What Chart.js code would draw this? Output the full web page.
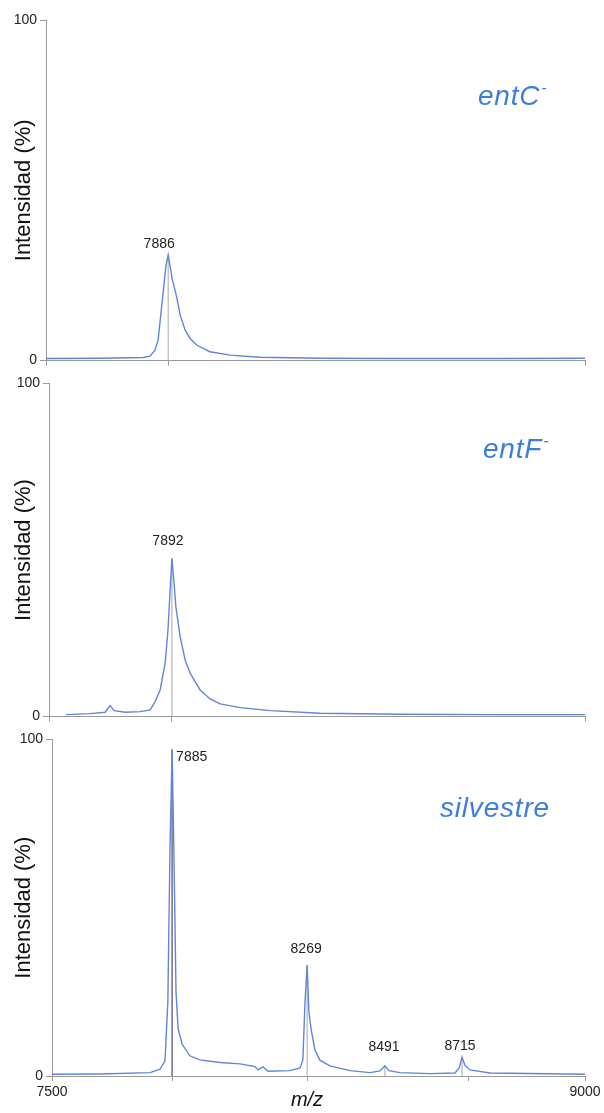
<!DOCTYPE html>
<html>
<head>
<meta charset="utf-8">
<script src="https://cdn.jsdelivr.net/npm/chart.js@4"></script>
<style>
  body { margin: 0; background: #fff; }
  .wrap { position: relative; width: 604px; height: 1113px; }
  canvas { position: absolute; left: 0; }
</style>
</head>
<body>
<div class="wrap">
  <canvas id="p1" width="604" height="372" style="top:0px"></canvas>
  <canvas id="p2" width="604" height="356" style="top:372px"></canvas>
  <canvas id="p3" width="604" height="385" style="top:728px"></canvas>
</div>
<script>
// axis
const xMin = 7500, xMax = 9000;
const xTickLabels = ['7500', '9000'];
const yTickLabels = ['0', '100'];

// entC- spectrum (m/z, intensity %)
const entC_mz  = [7500, 7650, 7770, 7789, 7803, 7812, 7817, 7826, 7834, 7840, 7845, 7851, 7856, 7865, 7873, 7887, 7901, 7920, 7956, 8012, 8096, 8263, 8485, 8763, 9000];
const entC_int = [0.6, 0.7, 0.9, 1.3, 3, 6, 11, 20, 28, 31, 28, 24, 22, 18, 13.5, 9, 6.5, 4.5, 2.6, 1.6, 1, 0.7, 0.6, 0.6, 0.7];
const entC_peakMz = [7840];
const entC_peakInt = [31];
const entC_peakLabels = ['7886'];
const entC_xTicks = [7840];

// entF- spectrum
const entF_mz  = [7548, 7615, 7657, 7671, 7682, 7713, 7755, 7783, 7797, 7811, 7825, 7833, 7839, 7844, 7850, 7855, 7867, 7881, 7895, 7923, 7951, 7979, 8035, 8119, 8259, 8482, 8762, 9000];
const entF_int = [0.6, 0.9, 1.3, 3.3, 1.8, 1.3, 1.5, 2, 4.5, 8, 16, 26, 38, 47.5, 40, 33, 24, 17, 13, 8, 5.3, 3.8, 2.7, 1.8, 1, 0.7, 0.6, 0.6];
const entF_peakMz = [7844];
const entF_peakInt = [47.5];
const entF_peakLabels = ['7892'];
const entF_xTicks = [7844];

// silvestre spectrum
const silv_mz  = [7500, 7635, 7776, 7804, 7818, 7826, 7832, 7838, 7843, 7849, 7855, 7866, 7888, 7916, 7973, 8029, 8071, 8080, 8094, 8108, 8170, 8198, 8206, 8212, 8218, 8223, 8229, 8240, 8254, 8282, 8339, 8395, 8423, 8437, 8448, 8479, 8564, 8634, 8646, 8654, 8662, 8676, 8733, 9000];
const silv_int = [0.5, 0.6, 1, 2, 4.5, 22, 67, 97, 67, 25, 14, 9.5, 6, 4.8, 4, 3.6, 2.8, 1.8, 2.7, 1.4, 1.6, 2.4, 4.7, 22, 33, 19, 14, 7.7, 4.7, 3, 1.6, 1, 1.5, 3, 1.6, 1, 0.7, 0.9, 2.4, 5.6, 3.2, 1.8, 0.9, 0.5];
const silv_peakMz = [7838, 8218, 8437, 8654];
const silv_peakInt = [97, 33, 3, 5.6];
const silv_peakLabels = ['7885', '8269', '8491', '8715'];
const silv_xTicks = [7838, 8218, 8673];

const lineColor = '#5f86d8';
const axisColor = '#9a9a9a';
const nameColor = '#3d7edc';

function toPoints(xs, ys) {
  return xs.map((x, i) => ({ x: x, y: ys[i] }));
}

// draws series name and peak labels on top of the chart
const textPlugin = {
  id: 'texts',
  afterDraw(chart) {
    const o = chart.options.plugins.texts;
    const ctx = chart.ctx;
    const xs = chart.scales.x, ys = chart.scales.y;
    ctx.save();
    // series name
    ctx.fillStyle = nameColor;
    ctx.font = 'italic 28px "Liberation Sans", Arial, sans-serif';
    ctx.letterSpacing = '0.8px';
    ctx.textAlign = 'left';
    ctx.textBaseline = 'alphabetic';
    ctx.fillText(o.name, o.nameX, o.nameY);
    if (o.sup) {
      const w = ctx.measureText(o.name).width;
      ctx.font = 'italic 16px "Liberation Sans", Arial, sans-serif';
      ctx.fillText(o.sup, o.nameX + w + 1, o.nameY - 12);
    }
    ctx.letterSpacing = '0px';
    // peak labels
    ctx.fillStyle = '#222';
    ctx.font = '14px "Liberation Sans", Arial, sans-serif';
    ctx.textBaseline = 'middle';
    o.peakMz.forEach((m, i) => {
      const off = o.labelOffsets[i];
      ctx.textAlign = off[2];
      ctx.fillText(o.peakLabels[i], xs.getPixelForValue(m) + off[0], ys.getPixelForValue(o.peakInt[i]) + off[1]);
    });
    if (o.xTitle) {
      ctx.fillStyle = '#111';
      ctx.font = 'italic 20px "Liberation Sans", Arial, sans-serif';
      ctx.textAlign = 'center';
      ctx.fillText(o.xTitle, 307, chart.height - 13);
    }
    ctx.restore();
  }
};

function makePanel(id, cfg) {
  const datasets = [];
  cfg.peakMz.forEach((m, i) => {
    datasets.push({
      data: [{ x: m, y: 0 }, { x: m, y: cfg.peakInt[i] }],
      borderColor: i === 0 && cfg.darkFirst ? '#7d7394' : '#a8a8b0',
      borderWidth: i === 0 && cfg.darkFirst ? 1.6 : 1,
      pointRadius: 0,
      order: 2
    });
  });
  datasets.push({
    data: toPoints(cfg.mz, cfg.int),
    borderColor: lineColor,
    borderWidth: 1.4,
    pointRadius: 0,
    tension: 0,
    order: 1
  });

  new Chart(document.getElementById(id), {
    type: 'line',
    data: { datasets: datasets },
    options: {
      responsive: false,
      animation: false,
      layout: { padding: { left: 8, right: 19, top: cfg.top, bottom: 0 } },
      plugins: {
        legend: { display: false },
        tooltip: { enabled: false },
        texts: cfg
      },
      scales: {
        x: {
          type: 'linear',
          min: xMin,
          max: xMax,
          afterBuildTicks: s => { s.ticks = [xMin].concat(cfg.xTicks, [xMax]).map(v => ({ value: v })); },
          afterFit: s => { s.height = cfg.xHeight; },
          ticks: {
            display: cfg.showX,
            autoSkip: false,
            maxRotation: 0,
            padding: 3,
            color: '#222',
            font: { family: '"Liberation Sans", Arial, sans-serif', size: 14 },
            callback: v => {
              const t = String(v);
              return xTickLabels.includes(t) ? t : '';
            }
          },
          grid: { drawOnChartArea: false, tickLength: 5, color: axisColor },
          border: { color: axisColor }
        },
        y: {
          min: 0,
          max: 100,
          afterBuildTicks: s => { s.ticks = yTickLabels.map(v => ({ value: Number(v) })); },
          afterFit: s => { s.width = cfg.left - 8; },
          ticks: {
            padding: 3,
            color: '#222',
            font: { family: '"Liberation Sans", Arial, sans-serif', size: 14 }
          },
          grid: { drawOnChartArea: false, tickLength: 6, color: axisColor },
          border: { color: axisColor },
          title: {
            display: true,
            text: 'Intensidad (%)',
            color: '#111',
            padding: { top: 3, bottom: 0 },
            font: { family: '"Liberation Sans", Arial, sans-serif', size: 22 }
          }
        }
      }
    },
    plugins: [textPlugin]
  });
}

makePanel('p1', {
  mz: entC_mz, int: entC_int,
  peakMz: entC_peakMz, peakInt: entC_peakInt, peakLabels: entC_peakLabels,
  labelOffsets: [[-9, -11, 'center']],
  xTicks: entC_xTicks,
  name: 'entC', sup: '-', nameX: 478, nameY: 105,
  top: 20, left: 46, xHeight: 11, showX: false
});

makePanel('p2', {
  mz: entF_mz, int: entF_int,
  peakMz: entF_peakMz, peakInt: entF_peakInt, peakLabels: entF_peakLabels,
  labelOffsets: [[-4, -17, 'center']],
  xTicks: entF_xTicks,
  name: 'entF', sup: '-', nameX: 483, nameY: 458 - 372,
  top: 9, left: 49, xHeight: 11, showX: false
});

makePanel('p3', {
  mz: silv_mz, int: silv_int,
  peakMz: silv_peakMz, peakInt: silv_peakInt, peakLabels: silv_peakLabels,
  labelOffsets: [[4, 8, 'left'], [-1, -16, 'center'], [-1, -19, 'center'], [-2, -11, 'center']],
  xTicks: silv_xTicks,
  darkFirst: true,
  name: 'silvestre', sup: '', nameX: 440, nameY: 817 - 728,
  xTitle: 'm/z',
  top: 9, left: 52, xHeight: 37, showX: true
});
</script>
</body>
</html>
